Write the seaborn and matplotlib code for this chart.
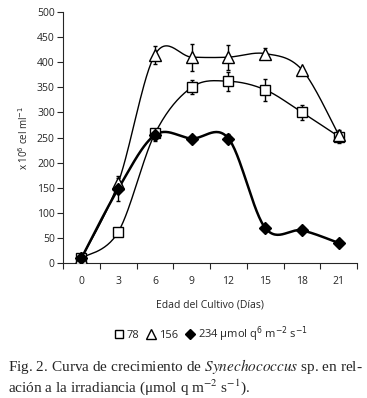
import numpy as np
import pandas as pd
import matplotlib
matplotlib.use('Agg')
import matplotlib.pyplot as plt
from matplotlib.lines import Line2D
import seaborn as sns

days = ['0', '3', '6', '9', '12', '15', '18', '21']
irr78 = [10, 62, 258, 350, 362, 345, 300, 252]
err78 = [0, 0, 6, 14, 19, 22, 15, 12]
irr156 = [10, 160, 415, 410, 410, 417, 385, 255]
err156 = [0, 10, 18, 27, 25, 11, 0, 8]
irr234 = [10, 148, 255, 248, 248, 70, 65, 40]
err234 = [0, 25, 12, 0, 8, 0, 0, 0]

sns.set_style('ticks')
plt.rcParams['font.family'] = ['Open Sans', 'DejaVu Sans']


def smooth(y, n=30):
    # Catmull-Rom style smoothing like a spreadsheet "smoothed line"
    x = np.arange(len(y), dtype=float)
    y = np.asarray(y, dtype=float)
    px = np.concatenate([[x[0]], x, [x[-1]]])
    py = np.concatenate([[y[0]], y, [y[-1]]])
    xs, ys = [], []
    for i in range(1, len(px) - 2):
        t = np.linspace(0, 1, n, endpoint=False)
        for p, out in ((px, xs), (py, ys)):
            p0, p1, p2, p3 = p[i - 1], p[i], p[i + 1], p[i + 2]
            out.extend(0.5 * (2 * p1 + (-p0 + p2) * t
                              + (2 * p0 - 5 * p1 + 4 * p2 - p3) * t ** 2
                              + (-p0 + 3 * p1 - 3 * p2 + p3) * t ** 3))
    xs.append(x[-1])
    ys.append(y[-1])
    return np.array(xs), np.array(ys)


fig = plt.figure(figsize=(3.67, 3.98), dpi=100)
ax = fig.add_axes([0.172, 0.339, 0.801, 0.631])

series = [(irr78, err78, 's', 'white', 1.0, 7, '78'),
          (irr156, err156, '^', 'white', 1.0, 8, '156'),
          (irr234, err234, 'D', 'black', 1.8, 6, '234')]
handles = []
for vals, errs, mk, fc, lw, ms, lab in series:
    sx, sy = smooth(vals)
    curve = pd.DataFrame({'x': sx, 'y': sy})
    sns.lineplot(data=curve, x='x', y='y', ax=ax, color='black', lw=lw,
                 sort=False, estimator=None)
    ax.errorbar(np.arange(len(days)), vals, yerr=errs, fmt=mk, mfc=fc,
                mec='black', mew=1.0, ms=ms, ecolor='black', elinewidth=1.0,
                capsize=1.5, capthick=1.0, zorder=3)
    handles.append(Line2D([], [], ls='none', marker=mk, mfc=fc, mec='black',
                          mew=1.0, ms=ms - 1, label=lab))
handles[2].set_label('234 μmol q$^6$ m$^{-2}$ s$^{-1}$')

ax.set_xlim(-0.5, 7.5)
ax.set_ylim(0, 500)
ax.set_yticks(range(0, 501, 50))
ax.set_xticks(np.arange(-0.5, 8, 1))
ax.set_xticklabels([])
ax.set_xticks(np.arange(len(days)), minor=True)
ax.set_xticklabels(days, minor=True)
ax.tick_params(axis='x', which='major', length=4, width=0.8)
ax.tick_params(axis='x', which='minor', length=0, pad=9, labelsize=7.5)
ax.tick_params(axis='y', length=4, width=0.8, labelsize=7.5, pad=2)
ax.set_xlabel('Edad del Cultivo (Días)', fontsize=7.5, labelpad=9)
ax.set_ylabel('x 10$^6$ cel ml$^{-1}$', fontsize=7, labelpad=4)
for s in ('left', 'bottom'):
    ax.spines[s].set_linewidth(0.8)
sns.despine(ax=ax)

leg = fig.legend(handles=handles, loc='center', bbox_to_anchor=(0.575, 0.16),
                 ncol=3, frameon=False, fontsize=8, handlelength=0.8,
                 handletextpad=0.3, columnspacing=0.7)
for t in leg.get_texts():
    t.set_math_fontfamily('dejavusans')

cap = dict(fontsize=11, family='Liberation Serif', math_fontfamily='stix',
           ha='left', va='baseline')
fig.text(0.022, 0.067, 'Fig. 2. Curva de crecimiento de $\\it{Synechococcus}$ sp. en rel-', **cap)
fig.text(0.022, 0.015, 'ación a la irradiancia (μmol q m$^{-2}$ s$^{-1}$).', **cap)

fig.savefig('out.png', dpi=100)
